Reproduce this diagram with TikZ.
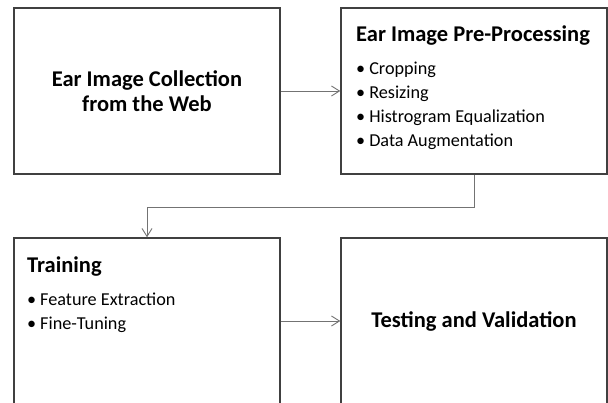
\documentclass[tikz,border=0pt]{standalone}
\usepackage{fontspec}
\setmainfont{Carlito}
\usetikzlibrary{arrows.meta}
\begin{document}
\begin{tikzpicture}[x=1pt,y=-1pt,
    stagebox/.style={draw=black!75,line width=1.4pt,minimum width=266pt,minimum height=166pt,inner sep=0pt},
    headtext/.style={font=\fontsize{22.5}{25.5}\selectfont\bfseries,align=center},
    listtext/.style={font=\fontsize{18.2}{23.8}\selectfont,align=left,inner sep=0pt,anchor=north west},
    flow/.style={draw=black!55,line width=0.9pt,-{Straight Barb[length=8pt,width=10pt]}}]
  \useasboundingbox (0,0) rectangle (608,403);
  \clip (0,0) rectangle (608,403);
  % the four stages
  \node[stagebox] (collect) at (147,91) {};
  \node[stagebox] (prep) at (474,91) {};
  \node[stagebox] (train) at (147,321) {};
  \node[stagebox] (test) at (474,321) {};
  \node[headtext] (collecttxt) at (collect) {Ear Image Collection\\from the Web};
  \node[headtext] (testtxt) at (test) {Testing and Validation};
  \node[listtext] (preptxt) at (356,26) {{\bfseries\fontsize{22.5}{25}\selectfont Ear Image Pre-Processing}\\[9pt]
    \textbullet\hspace{4pt}Cropping\\ \textbullet\hspace{4pt}Resizing\\
    \textbullet\hspace{4pt}Histrogram Equalization\\ \textbullet\hspace{4pt}Data Augmentation};
  \node[listtext] (traintxt) at (27,257) {{\bfseries\fontsize{22.5}{25}\selectfont Training}\\[9pt]
    \textbullet\hspace{4pt}Feature Extraction\\ \textbullet\hspace{4pt}Fine-Tuning};
  % connectors
  \draw[flow] (collect.east) -- (prep.west);
  \draw[flow] (prep.south) -- ++(0,33) -| (train.north);
  \draw[flow] (train.east) -- (test.west);
\end{tikzpicture}
\end{document}
